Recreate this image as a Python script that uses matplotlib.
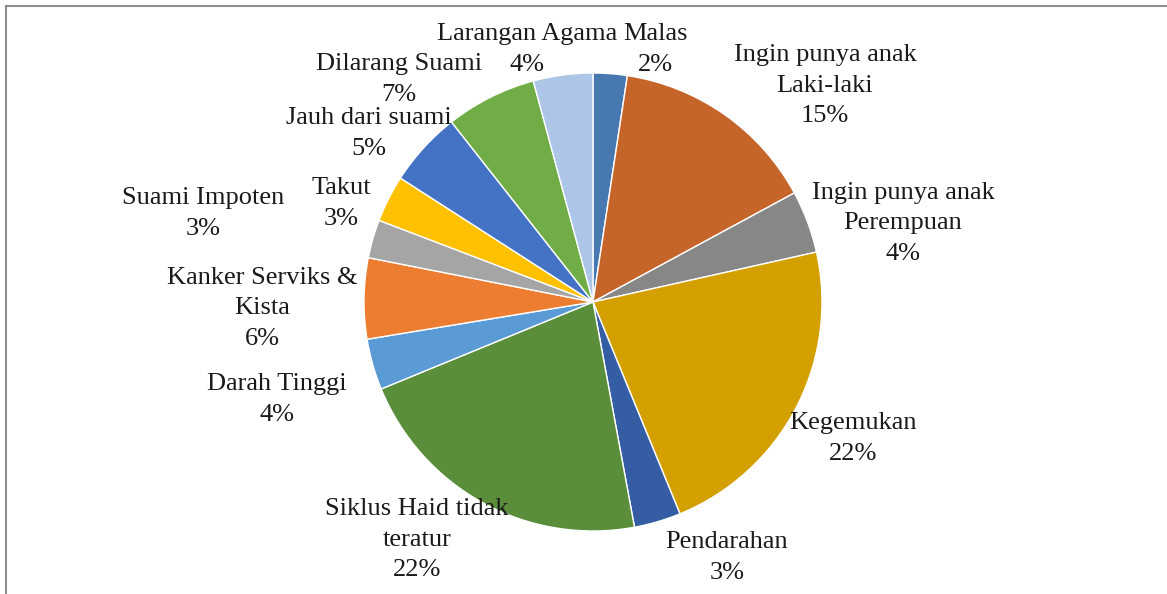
import matplotlib.pyplot as plt
from matplotlib.lines import Line2D

# slices, clockwise from 12 o'clock
categories = [
    "Malas",
    "Ingin punya anak\nLaki-laki",
    "Ingin punya anak\nPerempuan",
    "Kegemukan",
    "Pendarahan",
    "Siklus Haid tidak\nteratur",
    "Darah Tinggi",
    "Kanker Serviks &\nKista",
    "Suami Impoten",
    "Takut",
    "Jauh dari suami",
    "Dilarang Suami",
    "Larangan Agama",
]
shares = [2.4, 14.7, 4.4, 22.3, 3.3, 21.7, 3.6, 5.7, 2.7, 3.3, 5.3, 6.4, 4.2]
pct_labels = ["2%", "15%", "4%", "22%", "3%", "22%", "4%", "6%", "3%", "3%", "5%", "7%", "4%"]

colors = [
    "#4878B0", "#C5652A", "#878787", "#D4A000", "#355DA3", "#5A8E3A",
    "#5B9BD5", "#ED7D31", "#A5A5A5", "#FFC000", "#4472C4", "#70AD47", "#ADC6E8",
]

# label block centres in pixels (layout only)
label_px = [
    (655, 47), (825, 83), (903, 221), (853, 436), (727, 555), (417, 537),
    (277, 397), (262, 306), (203, 211), (341, 201), (369, 131), (399, 77), (527, 47),
]
line_gap = 30.5  # px between label lines

W, H = 1167, 594
cx, cy, R = 593, 302, 229

plt.rcParams["font.family"] = ["Liberation Serif", "DejaVu Serif"]

fig = plt.figure(figsize=(W / 100, H / 100), dpi=100)
ax = fig.add_axes([0, 0, 1, 1])
ax.pie(
    shares,
    colors=colors,
    startangle=90,
    counterclock=False,
    radius=1.0,
    wedgeprops=dict(edgecolor="white", linewidth=1.0),
)
ax.set_aspect("auto")
ax.set_xlim(-cx / R, (W - cx) / R)
ax.set_ylim(-(H - cy) / R, cy / R)
ax.axis("off")

for name, pct, (px, py) in zip(categories, pct_labels, label_px):
    rows = name.split("\n") + [pct]
    n = len(rows)
    for i, row in enumerate(rows):
        ly = py + (i - (n - 1) / 2) * line_gap
        ax.text(
            (px - cx) / R,
            (cy - ly) / R,
            row,
            ha="center",
            va="center_baseline",
            fontsize=19,
            color="#1a1a1a",
        )

# chart frame: only top and left edges visible
fig.add_artist(Line2D([6 / W, 1], [1 - 6 / H, 1 - 6 / H], color="#8c8c8c", lw=1.5, transform=fig.transFigure))
fig.add_artist(Line2D([6 / W, 6 / W], [0, 1 - 6 / H], color="#8c8c8c", lw=1.5, transform=fig.transFigure))

fig.savefig("out.png", dpi=100, facecolor="white")
